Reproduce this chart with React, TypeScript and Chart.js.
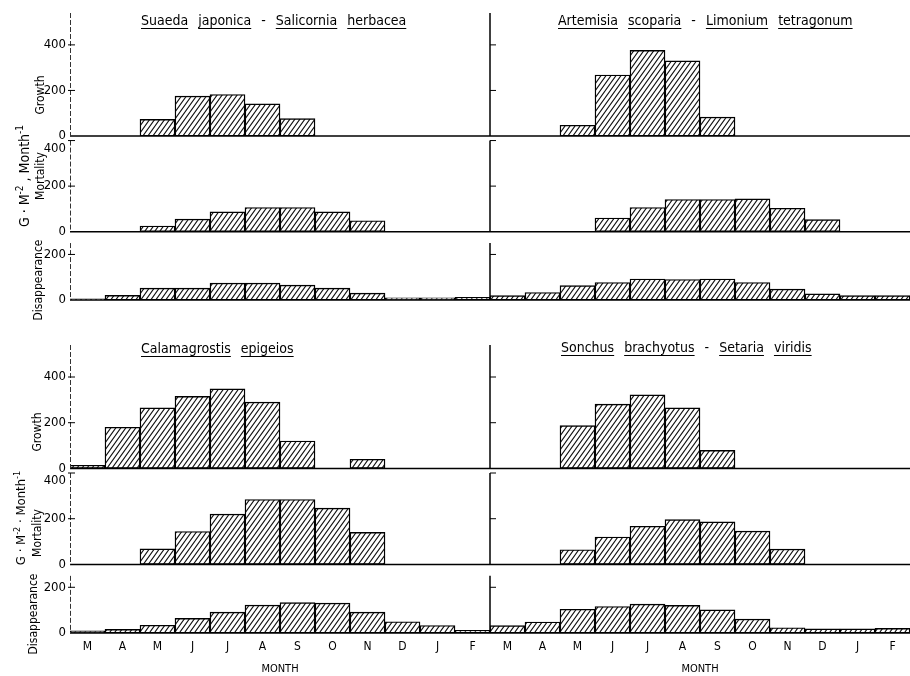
import React, { useEffect, useRef } from 'react';
import { Chart, registerables } from 'chart.js';

Chart.register(...registerables);

const FONT = "'DejaVu Sans Condensed', 'DejaVu Sans', sans-serif";

// Month categories (March .. February)
const months = ['M', 'A', 'M', 'J', 'J', 'A', 'S', 'O', 'N', 'D', 'J', 'F'];

// Suaeda japonica - Salicornia herbacea
const suaedaGrowth = [0, 0, 73, 175, 182, 141, 76, 0, 0, 0, 0, 0];
const suaedaMortality = [0, 0, 25, 55, 87, 106, 106, 87, 48, 0, 0, 0];
const suaedaDisappearance = [5, 20, 52, 52, 74, 74, 65, 52, 30, 10, 10, 12];

// Artemisia scoparia - Limonium tetragonum
const artemisiaGrowth = [0, 0, 47, 268, 376, 330, 83, 0, 0, 0, 0, 0];
const artemisiaMortality = [0, 0, 0, 60, 106, 141, 141, 144, 103, 53, 0, 0];
const artemisiaDisappearance = [19, 33, 63, 77, 92, 90, 92, 77, 48, 27, 19, 19];

// Calamagrostis epigeios
const calamGrowth = [14, 180, 265, 315, 348, 290, 120, 0, 40, 0, 0, 0];
const calamMortality = [0, 0, 68, 144, 220, 284, 284, 246, 140, 0, 0, 0];
const calamDisappearance = [9, 16, 34, 64, 91, 122, 133, 131, 91, 49, 33, 12];

// Sonchus brachyotus - Setaria viridis
const sonchusGrowth = [0, 0, 187, 281, 322, 265, 79, 0, 0, 0, 0, 0];
const sonchusMortality = [0, 0, 64, 120, 167, 196, 186, 146, 67, 0, 0, 0];
const sonchusDisappearance = [32, 48, 104, 116, 126, 121, 101, 61, 23, 18, 18, 20];

// Tick values per row
const growthTicks = [0, 200, 400];
const mortalityTicks = [0, 200, 400];
const disappearanceTicks = [0, 200];

// Row scale ranges
const growthMax = 540;
const mortalityMax = 420;
const disappearanceMax = 300;
const axisTop: Record<string, number> = { yG: 540, yM: 400, yD: 250 };
const tickSets: Record<string, number[]> = {
  yG: growthTicks,
  yM: mortalityTicks,
  yD: disappearanceTicks,
};

function makeHatch(): CanvasPattern | string {
  const w = 5;
  const h = 7;
  const c = document.createElement('canvas');
  c.width = w;
  c.height = h;
  const g = c.getContext('2d');
  if (!g) return '#ccc';
  g.fillStyle = '#fff';
  g.fillRect(0, 0, w, h);
  g.strokeStyle = '#111';
  g.lineWidth = 1.1;
  g.beginPath();
  for (const dx of [-w, 0, w]) {
    for (const dy of [-h, 0, h]) {
      g.moveTo(dx, h + dy);
      g.lineTo(w + dx, dy);
    }
  }
  g.stroke();
  return g.createPattern(c, 'repeat') || '#ccc';
}

const decorPlugin = {
  id: 'decor',
  afterDatasetsDraw(chart: any) {
    const ctx: CanvasRenderingContext2D = chart.ctx;
    const area = chart.chartArea;
    const mid = chart.scales.x2.left;
    const line = (x1: number, y1: number, x2: number, y2: number) => {
      ctx.beginPath();
      ctx.moveTo(x1, y1);
      ctx.lineTo(x2, y2);
      ctx.stroke();
    };
    ctx.save();
    for (const id of ['yG', 'yM', 'yD']) {
      const s = chart.scales[id];
      const y0 = s.getPixelForValue(0);
      const yt = s.getPixelForValue(axisTop[id]);
      ctx.setLineDash([]);
      ctx.strokeStyle = '#000';
      ctx.lineWidth = 1.5;
      line(area.left, y0, area.right, y0);
      // left axis (light, broken)
      ctx.strokeStyle = '#333';
      ctx.lineWidth = 1;
      ctx.setLineDash([5, 2]);
      line(area.left + 0.5, yt, area.left + 0.5, y0);
      // middle axis (solid)
      ctx.setLineDash([]);
      ctx.strokeStyle = '#000';
      ctx.lineWidth = 1.5;
      line(mid, yt, mid, y0);
      for (const v of tickSets[id]) {
        if (v === 0) continue;
        const y = s.getPixelForValue(v);
        ctx.lineWidth = 1;
        line(area.left - 2, y, area.left + 5, y);
        line(mid, y, mid + 6, y);
      }
    }
    ctx.restore();
  },
};

type Series = { g: number[]; m: number[]; d: number[] };

function buildChart(canvas: HTMLCanvasElement, left: Series, right: Series, showX: boolean, padTop: number, padBottom: number) {
  const hatch = makeHatch();
  const ds = (data: number[], x: string, y: string) => ({
    type: 'bar' as const,
    data,
    xAxisID: x,
    yAxisID: y,
    backgroundColor: hatch,
    borderColor: '#000',
    borderWidth: 1.4,
    borderSkipped: false,
    grouped: false,
    barPercentage: 1,
    categoryPercentage: 1,
  });
  const yAxis = (max: number, weight: number, tickValues: number[], lowerTop: boolean) => ({
    type: 'linear',
    position: 'left',
    stack: 'rows',
    stackWeight: max,
    weight,
    min: 0,
    max,
    grid: { display: false, drawTicks: false },
    border: { display: false },
    ticks: {
      font: { family: FONT, size: 13 },
      color: '#000',
      padding: 4,
      autoSkip: false,
      // the top label of the mortality row sits just under the growth baseline
      callback: (value: number) =>
        lowerTop && value === tickValues[tickValues.length - 1] ? ['', String(value)] : String(value),
    },
    afterBuildTicks: (s: any) => {
      s.ticks = tickValues.map((v) => ({ value: v }));
    },
    afterFit: (s: any) => {
      s.width = 70;
      s.paddingTop = 0;
      s.paddingBottom = 0;
    },
  });
  const xAxis = (weight: number) => ({
    type: 'category',
    labels: months,
    position: 'bottom',
    stack: 'cols',
    stackWeight: 1,
    weight,
    offset: true,
    display: showX,
    grid: { display: false, drawTicks: false },
    border: { display: false },
    ticks: { font: { family: FONT, size: 12 }, color: '#000', padding: 7, maxRotation: 0, autoSkip: false },
    title: { display: showX, text: 'MONTH', font: { family: FONT, size: 11 }, color: '#000', padding: { top: 0, bottom: 0 } },
    afterFit: (s: any) => {
      s.height = showX ? 43 : 0;
      s.paddingLeft = 0;
      s.paddingRight = 0;
    },
  });
  return new Chart(canvas, {
    type: 'bar',
    data: {
      labels: months,
      datasets: [
        ds(left.g, 'x1', 'yG'),
        ds(left.m, 'x1', 'yM'),
        ds(left.d, 'x1', 'yD'),
        ds(right.g, 'x2', 'yG'),
        ds(right.m, 'x2', 'yM'),
        ds(right.d, 'x2', 'yD'),
      ] as any,
    },
    options: {
      responsive: false,
      animation: false,
      events: [],
      layout: { padding: { top: padTop, bottom: padBottom, left: 0, right: 0 } },
      plugins: { legend: { display: false }, tooltip: { enabled: false }, title: { display: false } },
      scales: {
        x1: xAxis(1),
        x2: xAxis(2),
        yG: yAxis(growthMax, 3, growthTicks, false),
        yM: yAxis(mortalityMax, 2, mortalityTicks, true),
        yD: yAxis(disappearanceMax, 1, disappearanceTicks, false),
      } as any,
    },
    plugins: [decorPlugin],
  });
}

const baseText: React.CSSProperties = {
  position: 'absolute',
  fontFamily: FONT,
  color: '#000',
  whiteSpace: 'nowrap',
  lineHeight: 1,
};

function Title({ words, left, top }: { words: string[]; left: number; top: number }) {
  return (
    <div style={{ ...baseText, left, top, fontSize: 14, wordSpacing: 6 }}>
      {words.map((w, i) => (
        <React.Fragment key={i}>
          {i > 0 ? ' ' : ''}
          {w === '-' ? (
            <span>-</span>
          ) : (
            <span style={{ textDecoration: 'underline', textUnderlineOffset: 3 }}>{w}</span>
          )}
        </React.Fragment>
      ))}
    </div>
  );
}

function VLabel({ children, x, y, size }: { children: React.ReactNode; x: number; y: number; size: number }) {
  return (
    <div
      style={{
        ...baseText,
        left: x,
        top: y,
        fontSize: size,
        transform: 'translate(-50%, -50%) rotate(-90deg)',
      }}
    >
      {children}
    </div>
  );
}

export default function App() {
  const topRef = useRef<HTMLCanvasElement>(null);
  const botRef = useRef<HTMLCanvasElement>(null);

  useEffect(() => {
    const charts: Chart[] = [];
    if (topRef.current) {
      charts.push(
        buildChart(
          topRef.current,
          { g: suaedaGrowth, m: suaedaMortality, d: suaedaDisappearance },
          { g: artemisiaGrowth, m: artemisiaMortality, d: artemisiaDisappearance },
          false,
          13,
          10
        )
      );
    }
    if (botRef.current) {
      charts.push(
        buildChart(
          botRef.current,
          { g: calamGrowth, m: calamMortality, d: calamDisappearance },
          { g: sonchusGrowth, m: sonchusMortality, d: sonchusDisappearance },
          true,
          35,
          0
        )
      );
    }
    return () => charts.forEach((c) => c.destroy());
  }, []);

  return (
    <div style={{ position: 'absolute', left: 0, top: 0, width: 910, height: 676, background: '#fff', overflow: 'hidden' }}>
      <canvas ref={topRef} width={910} height={310} style={{ position: 'absolute', left: 0, top: 0 }} />
      <canvas ref={botRef} width={910} height={366} style={{ position: 'absolute', left: 0, top: 310 }} />

      <Title words={['Suaeda', 'japonica', '-', 'Salicornia', 'herbacea']} left={141} top={13} />
      <Title words={['Artemisia', 'scoparia', '-', 'Limonium', 'tetragonum']} left={558} top={13} />
      <Title words={['Calamagrostis', 'epigeios']} left={141} top={341} />
      <Title words={['Sonchus', 'brachyotus', '-', 'Setaria', 'viridis']} left={561} top={340} />

      <VLabel x={40} y={95} size={12}>Growth</VLabel>
      <VLabel x={40} y={176} size={12}>Mortality</VLabel>
      <VLabel x={38} y={280} size={12}>Disappearance</VLabel>
      <VLabel x={23} y={176} size={14}>
        G · M<sup style={{ fontSize: 10 }}>-2</sup> , Month<sup style={{ fontSize: 10 }}>-1</sup>
      </VLabel>

      <VLabel x={37} y={432} size={12}>Growth</VLabel>
      <VLabel x={37} y={533} size={12}>Mortality</VLabel>
      <VLabel x={33} y={614} size={12}>Disappearance</VLabel>
      <VLabel x={20} y={518} size={13}>
        G · M<sup style={{ fontSize: 9 }}>-2</sup> · Month<sup style={{ fontSize: 9 }}>-1</sup>
      </VLabel>
    </div>
  );
}
